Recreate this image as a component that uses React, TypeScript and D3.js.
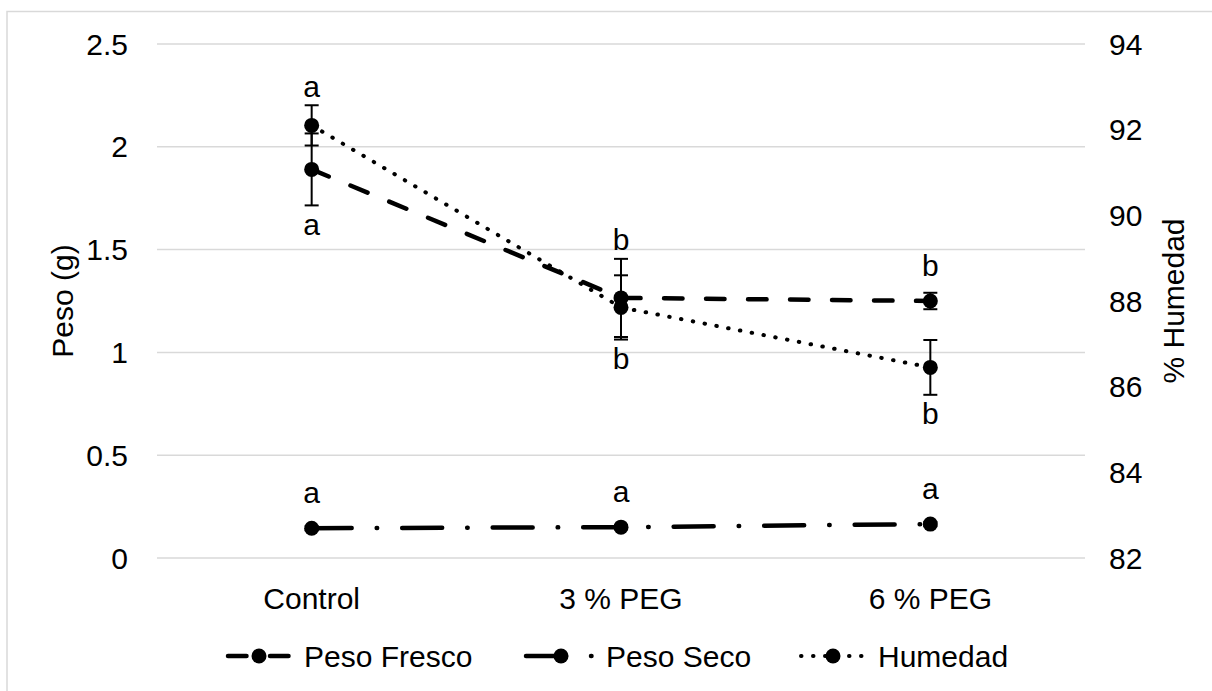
import React from "react";
import * as d3 from "d3";

// datos
const categories = ["Control", "3 % PEG", "6 % PEG"];
const pesoFresco = [1.89, 1.265, 1.25];
const pesoFrescoErr = [0.175, 0.19, 0.04];
const pesoSeco = [0.145, 0.15, 0.165];
const pesoSecoErr = [0.01, 0.01, 0.01];
const humedad = [92.1, 87.85, 86.45];
const humedadErr = [0.47, 0.75, 0.64];
const leftTicks = [0, 0.5, 1, 1.5, 2, 2.5];
const rightTicks = [82, 84, 86, 88, 90, 92, 94];
const legendNames = ["Peso Fresco", "Peso Seco", "Humedad"];

// letras de significancia (serie, categoria, texto, lado)
const letras = [
  { serie: 2, cat: 0, texto: "a", lado: "arriba" },
  { serie: 0, cat: 0, texto: "a", lado: "abajo" },
  { serie: 0, cat: 1, texto: "b", lado: "arriba" },
  { serie: 2, cat: 1, texto: "b", lado: "abajo" },
  { serie: 0, cat: 2, texto: "b", lado: "arriba" },
  { serie: 2, cat: 2, texto: "b", lado: "abajo" },
  { serie: 1, cat: 0, texto: "a", lado: "arriba" },
  { serie: 1, cat: 1, texto: "a", lado: "arriba" },
  { serie: 1, cat: 2, texto: "a", lado: "arriba" },
];

const W = 1212;
const H = 691;
const margin = { top: 44, right: 127, bottom: 133, left: 157 };
const FONT = "'Liberation Sans', Arial, sans-serif";
const FS = 30;
const GRID = "#d9d9d9";

const App = () => {
  const x = d3
    .scaleBand()
    .domain(categories)
    .range([margin.left, W - margin.right]);
  const yL = d3.scaleLinear().domain([0, 2.5]).range([H - margin.bottom, margin.top]);
  const yR = d3.scaleLinear().domain([82, 94]).range([H - margin.bottom, margin.top]);
  const cx = (i) => x(categories[i]) + x.bandwidth() / 2;

  const series = [
    { values: pesoFresco, errs: pesoFrescoErr, y: yL, dash: "18.5 23.5", width: 4.5 },
    { values: pesoSeco, errs: pesoSecoErr, y: yL, dash: "40 25 0.5 25", width: 4.5 },
    { values: humedad, errs: humedadErr, y: yR, dash: "0.5 11.5", width: 4 },
  ];

  const line = (s) =>
    d3
      .line()
      .x((d, i) => cx(i))
      .y((d) => s.y(d))(s.values);

  // leyenda
  const legendX = [224, 526, 798];
  const legendY = 656;
  const legendLine = [
    { x1: 0, x2: 66, offset: -4 },
    { x1: 0, x2: 66, offset: 0 },
    { x1: 3, x2: 66, offset: 0 },
  ];

  return (
    <svg
      width={W}
      height={H}
      style={{ position: "absolute", left: 0, top: 0, background: "#fff" }}
      fontFamily={FONT}
    >
      <rect x={7} y={11.5} width={W + 20} height={H + 20} fill="#fff" stroke={GRID} strokeWidth={1.5} />

      {/* grid */}
      {leftTicks.map((t) => (
        <line key={t} x1={margin.left} x2={W - margin.right} y1={yL(t)} y2={yL(t)} stroke={GRID} strokeWidth={1.5} />
      ))}

      {/* ejes */}
      {leftTicks.map((t) => (
        <text key={t} x={128} y={yL(t)} dy="0.35em" textAnchor="end" fontSize={FS} fill="#000">
          {t}
        </text>
      ))}
      {rightTicks.map((t) => (
        <text key={t} x={1109} y={yR(t)} dy="0.35em" textAnchor="start" fontSize={FS} fill="#000">
          {t}
        </text>
      ))}
      {categories.map((c, i) => (
        <text key={c} x={cx(i)} y={598} dy="0.35em" textAnchor="middle" fontSize={FS} fill="#000">
          {c}
        </text>
      ))}
      <text
        transform={`translate(62,${(yL(0) + yL(2.5)) / 2}) rotate(-90)`}
        textAnchor="middle"
        dy="0.35em"
        fontSize={FS}
        fill="#000"
      >
        Peso (g)
      </text>
      <text
        transform={`translate(1173,${(yL(0) + yL(2.5)) / 2}) rotate(-90)`}
        textAnchor="middle"
        dy="0.35em"
        fontSize={FS}
        fill="#000"
      >
        % Humedad
      </text>

      {/* lineas */}
      {series.map((s, k) => (
        <path
          key={k}
          d={line(s)}
          fill="none"
          stroke="#000"
          strokeWidth={s.width}
          strokeDasharray={s.dash}
          strokeLinecap="round"
        />
      ))}

      {/* barras de error */}
      {series.map((s, k) =>
        s.values.map((v, i) => {
          const y1 = s.y(v + s.errs[i]);
          const y2 = s.y(v - s.errs[i]);
          const xx = cx(i);
          return (
            <g key={`${k}-${i}`} stroke="#000" strokeWidth={2}>
              <line x1={xx} x2={xx} y1={y1} y2={y2} />
              <line x1={xx - 7} x2={xx + 7} y1={y1} y2={y1} />
              <line x1={xx - 7} x2={xx + 7} y1={y2} y2={y2} />
            </g>
          );
        })
      )}

      {/* marcadores */}
      {series.map((s, k) =>
        s.values.map((v, i) => <circle key={`${k}-${i}`} cx={cx(i)} cy={s.y(v)} r={7.5} fill="#000" />)
      )}

      {/* letras */}
      {letras.map((l, j) => {
        const s = series[l.serie];
        const v = s.values[l.cat];
        const e = s.errs[l.cat];
        const yy =
          l.lado === "arriba"
            ? Math.min(s.y(v + e) - 19, s.y(v) - 36)
            : Math.max(s.y(v - e) + 19, s.y(v) + 36);
        return (
          <text key={j} x={cx(l.cat)} y={yy} dy="0.35em" textAnchor="middle" fontSize={FS} fill="#000">
            {l.texto}
          </text>
        );
      })}

      {/* leyenda */}
      {series.map((s, k) => {
        const x0 = legendX[k];
        const ll = legendLine[k];
        return (
          <g key={k}>
            <line
              x1={x0 + ll.x1}
              x2={x0 + ll.x2}
              y1={legendY}
              y2={legendY}
              stroke="#000"
              strokeWidth={s.width}
              strokeDasharray={s.dash}
              strokeDashoffset={ll.offset}
              strokeLinecap="round"
            />
            <circle cx={x0 + 35} cy={legendY} r={7.5} fill="#000" />
            <text x={x0 + 80} y={legendY} dy="0.35em" fontSize={FS} fill="#000">
              {legendNames[k]}
            </text>
          </g>
        );
      })}
    </svg>
  );
};

export default App;
